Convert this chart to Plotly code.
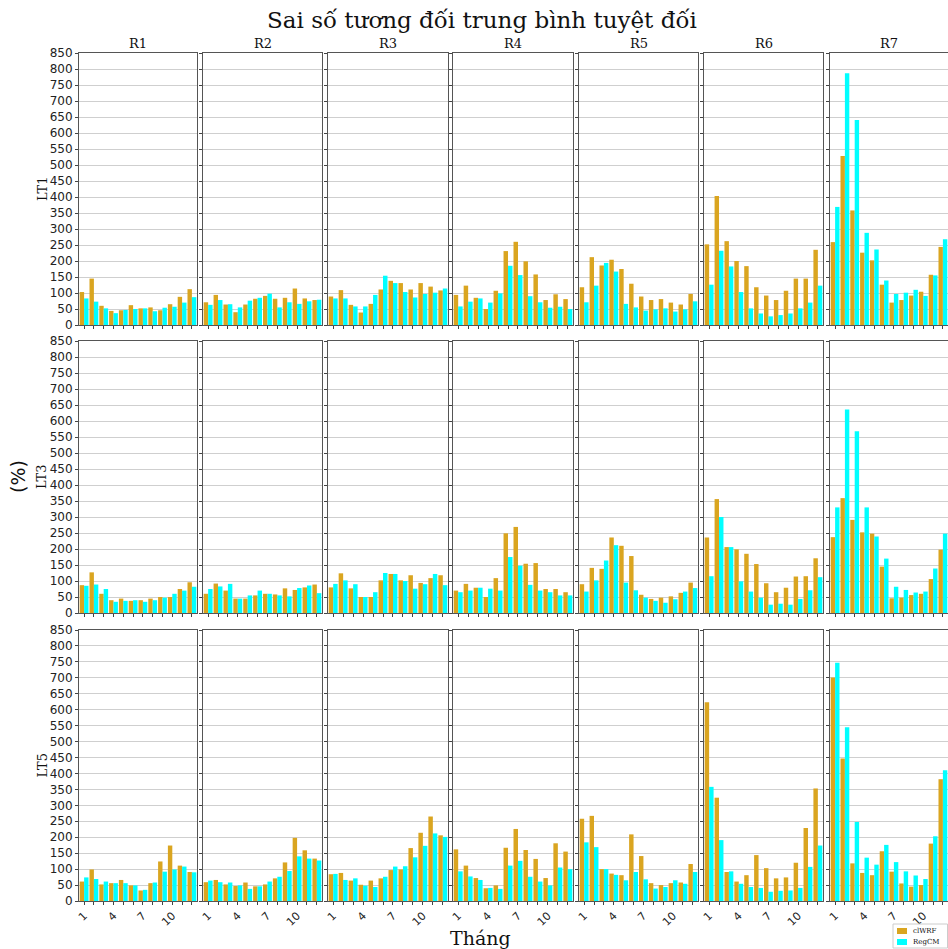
import plotly.graph_objects as go

months = list(range(1, 13))
regions = ["R1", "R2", "R3", "R4", "R5", "R6", "R7"]
lead_times = ["LT1", "LT3", "LT5"]
month_ticks = [1, 4, 7, 10]
y_ticks = list(range(0, 851, 50))
series_names = ["clWRF", "RegCM"]

# LT1 (rows: R1..R7, 12 months each)
clwrf_lt1 = [
    [103, 145, 60, 44, 46, 62, 52, 55, 46, 65, 88, 112],
    [71, 94, 64, 40, 64, 82, 91, 82, 85, 114, 83, 78],
    [89, 109, 63, 39, 66, 111, 138, 131, 111, 131, 120, 108],
    [94, 123, 85, 50, 107, 231, 260, 199, 158, 78, 96, 81],
    [118, 212, 186, 204, 175, 129, 89, 78, 81, 70, 64, 97],
    [252, 403, 262, 200, 184, 118, 92, 78, 107, 145, 145, 235],
    [259, 528, 358, 226, 202, 126, 70, 78, 92, 104, 157, 244],
]
regcm_lt1 = [
    [83, 73, 52, 37, 47, 50, 52, 43, 54, 57, 70, 87],
    [63, 78, 65, 55, 76, 85, 98, 55, 71, 66, 74, 79],
    [83, 83, 58, 58, 94, 154, 131, 103, 86, 97, 101, 114],
    [58, 73, 83, 70, 99, 185, 156, 90, 71, 54, 57, 50],
    [71, 123, 194, 167, 66, 55, 45, 49, 52, 42, 49, 74],
    [126, 232, 183, 103, 52, 36, 27, 31, 36, 52, 70, 123],
    [369, 787, 641, 288, 236, 139, 97, 101, 110, 91, 155, 268],
]
# LT3
clwrf_lt3 = [
    [87, 127, 60, 40, 45, 38, 40, 45, 50, 50, 75, 96],
    [60, 92, 70, 45, 45, 55, 60, 58, 77, 72, 80, 89],
    [80, 124, 77, 50, 50, 102, 122, 102, 118, 94, 109, 118],
    [70, 91, 79, 50, 109, 249, 269, 154, 156, 75, 75, 65],
    [90, 141, 138, 236, 210, 178, 57, 44, 48, 52, 63, 95],
    [236, 356, 206, 199, 185, 153, 93, 65, 79, 114, 115, 171],
    [237, 359, 291, 252, 248, 145, 46, 48, 56, 60, 106, 198],
]
regcm_lt3 = [
    [85, 89, 75, 35, 38, 40, 35, 40, 48, 60, 70, 82],
    [75, 83, 91, 45, 55, 70, 60, 55, 52, 78, 86, 62],
    [91, 102, 90, 50, 65, 125, 122, 100, 76, 90, 122, 87],
    [65, 70, 79, 76, 70, 175, 148, 88, 70, 65, 55, 55],
    [67, 102, 164, 212, 95, 71, 48, 38, 32, 43, 67, 78],
    [115, 300, 206, 99, 67, 48, 26, 29, 26, 44, 71, 112],
    [330, 636, 568, 330, 239, 170, 82, 72, 64, 67, 139, 248],
]
# LT5
clwrf_lt5 = [
    [61, 99, 52, 56, 66, 49, 33, 56, 124, 174, 111, 91],
    [59, 66, 52, 47, 58, 46, 52, 71, 121, 198, 159, 133],
    [84, 88, 64, 51, 64, 71, 97, 99, 166, 214, 265, 206],
    [162, 111, 72, 40, 49, 167, 226, 160, 132, 72, 181, 155],
    [258, 267, 100, 86, 81, 209, 141, 56, 50, 56, 58, 116],
    [623, 324, 91, 61, 81, 144, 103, 71, 74, 120, 229, 353],
    [701, 447, 118, 88, 81, 156, 92, 55, 45, 50, 180, 382],
]
regcm_lt5 = [
    [74, 69, 61, 56, 56, 49, 35, 58, 92, 99, 108, 90],
    [64, 59, 58, 49, 38, 46, 61, 76, 94, 140, 133, 127],
    [85, 66, 71, 48, 44, 76, 108, 109, 137, 173, 212, 201],
    [93, 77, 66, 41, 38, 111, 126, 76, 61, 49, 105, 100],
    [184, 169, 100, 82, 65, 91, 68, 39, 44, 65, 54, 91],
    [358, 191, 93, 54, 44, 41, 29, 32, 33, 41, 107, 174],
    [747, 545, 248, 136, 114, 176, 122, 93, 80, 69, 203, 410],
]

clwrf_rows = [clwrf_lt1, clwrf_lt3, clwrf_lt5]
regcm_rows = [regcm_lt1, regcm_lt3, regcm_lt5]

CL_COLOR = "#DAA520"
REG_COLOR = "#00FFFF"
W, H = 948, 949
col_px = [(79, 197), (203, 322), (328, 448), (453, 573), (579, 698), (704, 823), (830, 948)]
row_px = [(53, 325), (341, 613), (630, 901)]
SERIF = "DejaVu Serif"
SANS = "DejaVu Sans"

fig = go.Figure()
layout = {}
for r in range(3):
    for c in range(7):
        k = r * 7 + c + 1
        xa = "x" if k == 1 else f"x{k}"
        ya = "y" if k == 1 else f"y{k}"
        fig.add_trace(go.Bar(
            x=months, y=clwrf_rows[r][c], name=series_names[0], marker_color=CL_COLOR,
            marker_line_width=0, offset=-0.45, width=0.45, xaxis=xa, yaxis=ya,
            showlegend=False))
        fig.add_trace(go.Bar(
            x=months, y=regcm_rows[r][c], name=series_names[1], marker_color=REG_COLOR,
            marker_line_width=0, offset=0.0, width=0.45, xaxis=xa, yaxis=ya,
            showlegend=False))
        x0, x1 = col_px[c]
        y0, y1 = row_px[r]
        xkey = "xaxis" if k == 1 else f"xaxis{k}"
        ykey = "yaxis" if k == 1 else f"yaxis{k}"
        last_col = (c == 6)
        layout[xkey] = dict(
            domain=[x0 / W, min(x1 / W, 1.0)], anchor=ya, range=[0.48, 12.52],
            tickmode="array", tickvals=months,
            ticktext=[str(m) if (m in month_ticks and r == 2) else "" for m in months],
            ticks="outside", ticklen=3, tickcolor="#444", tickangle=-45,
            tickfont=dict(family=SANS, size=11, color="#222"),
            showline=True, linecolor="#555", linewidth=1, mirror=True,
            showgrid=False, zeroline=False, fixedrange=True, automargin=False,
        )
        layout[ykey] = dict(
            domain=[1 - y1 / H, 1 - y0 / H], anchor=xa, range=[0, 850],
            tickmode="array", tickvals=y_ticks, showticklabels=(c == 0),
            ticks="outside", ticklen=3, tickcolor="#444",
            tickfont=dict(family=SANS, size=12, color="#222"),
            showline=True, linecolor="#555", linewidth=1,
            mirror=(False if last_col else True),
            showgrid=True, gridcolor="#cfcfcf", gridwidth=1, zeroline=False,
            automargin=False,
        )

annotations = []
for c, name in enumerate(regions):
    x0, x1 = col_px[c]
    xc = (x0 + x1) / 2
    annotations.append(dict(text=name, x=xc / W, y=1 - 44 / H, xref="paper", yref="paper",
                            showarrow=False, xanchor="center", yanchor="middle",
                            font=dict(family=SERIF, size=13, color="#111")))
for r, lt in enumerate(lead_times):
    y0, y1 = row_px[r]
    annotations.append(dict(text=lt, x=42 / W, y=1 - ((y0 + y1) / 2) / H, xref="paper", yref="paper",
                            showarrow=False, textangle=-90, xanchor="center", yanchor="middle",
                            font=dict(family=SERIF, size=13, color="#111")))
annotations.append(dict(text="(%)", x=18 / W, y=1 - 477 / H, xref="paper", yref="paper",
                        showarrow=False, textangle=-90, xanchor="center", yanchor="middle",
                        font=dict(family=SANS, size=19, color="#111")))
annotations.append(dict(text="Tháng", x=480 / W, y=1 - 938 / H, xref="paper", yref="paper",
                        showarrow=False, xanchor="center", yanchor="middle",
                        font=dict(family=SERIF, size=19, color="#111")))
annotations.append(dict(text="Sai số tương đối trung bình tuyệt đối", x=482 / W, y=1 - 20 / H,
                        xref="paper", yref="paper", showarrow=False, xanchor="center", yanchor="middle",
                        font=dict(family=SERIF, size=23, color="#111")))

# compact legend box (bottom-right)
shapes = [dict(type="rect", xref="paper", yref="paper", x0=893 / W, x1=947.5 / W,
               y0=1 - 948 / H, y1=1 - 924 / H, line=dict(color="#cccccc", width=1),
               fillcolor="white")]
for i, (nm, colr) in enumerate(zip(series_names, [CL_COLOR, REG_COLOR])):
    yc = 931 + i * 11
    shapes.append(dict(type="rect", xref="paper", yref="paper", x0=897 / W, x1=907 / W,
                       y0=1 - (yc + 3) / H, y1=1 - (yc - 3) / H, line=dict(width=0),
                       fillcolor=colr))
    annotations.append(dict(text=nm, x=911 / W, y=1 - yc / H, xref="paper", yref="paper",
                            showarrow=False, xanchor="left", yanchor="middle",
                            font=dict(family=SERIF, size=7, color="#111")))

fig.update_layout(
    width=W, height=H, margin=dict(l=0, r=0, t=0, b=0, pad=0, autoexpand=False),
    paper_bgcolor="white", plot_bgcolor="white", barmode="overlay",
    annotations=annotations, shapes=shapes, showlegend=False,
    **layout,
)
fig.write_html("out.html", post_script="document.body.style.margin='0';")
